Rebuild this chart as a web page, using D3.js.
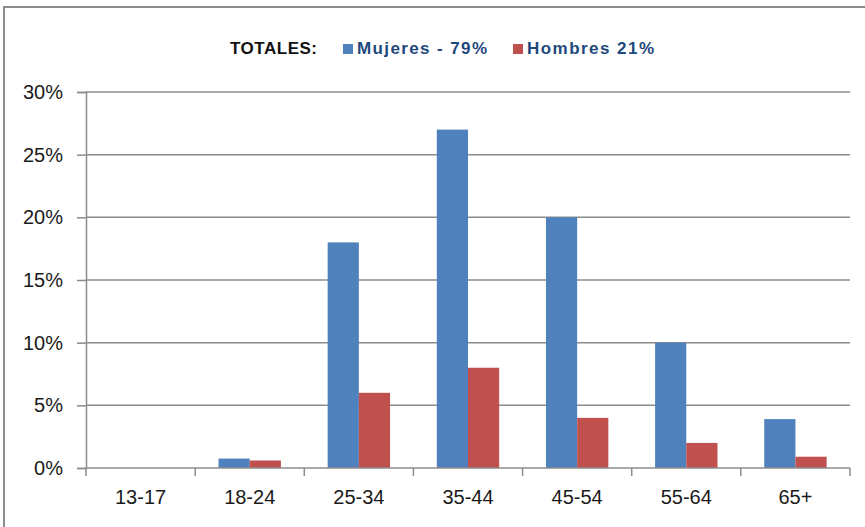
<!DOCTYPE html>
<html>
<head>
<meta charset="utf-8">
<script src="https://cdn.jsdelivr.net/npm/d3@7"></script>
<style>
  body { margin: 0; background: #fff; }
  svg { display: block; font-family: "Liberation Sans", Arial, sans-serif; }
</style>
</head>
<body>
<svg width="865" height="527"></svg>
<script>
// age groups and share of each sex
const ageGroups = ["13-17", "18-24", "25-34", "35-44", "45-54", "55-64", "65+"];
const mujeres = [0, 0.75, 18, 27, 20, 10, 3.9];
const hombres = [0, 0.6, 6, 8, 4, 2, 0.9];
const seriesNames = ["Mujeres - 79%", "Hombres 21%"];
const seriesColors = ["#4f81bd", "#c0504d"];
const yTicks = [0, 5, 10, 15, 20, 25, 30];

const svg = d3.select("svg");

// chart frame, right/bottom edges fall outside the picture
svg.append("rect")
    .attr("x", 4).attr("y", 7)
    .attr("width", 900).attr("height", 600)
    .attr("fill", "#fff")
    .attr("stroke", "#8c8c8c")
    .attr("stroke-width", 2);

const plotLeft = 86, plotRight = 850, plotTop = 92, plotBottom = 468;

const x0 = d3.scaleBand().domain(ageGroups).range([plotLeft, plotRight]).paddingInner(0).paddingOuter(0);
const x1 = d3.scaleBand().domain(seriesNames).range([0, x0.bandwidth()]).paddingInner(0).paddingOuter(0.75);
const y = d3.scaleLinear().domain([0, 30]).range([plotBottom, plotTop]);

// gridlines
svg.append("g")
  .selectAll("line")
  .data(yTicks.filter(d => d > 0))
  .enter().append("line")
    .attr("x1", plotLeft).attr("x2", plotRight)
    .attr("y1", d => y(d)).attr("y2", d => y(d))
    .attr("stroke", "#8c8c8c")
    .attr("stroke-width", 1.5);

// bars
const rows = ageGroups.map((g, i) => ({ group: g, values: [mujeres[i], hombres[i]] }));

const groups = svg.append("g")
  .selectAll("g")
  .data(rows)
  .enter().append("g")
    .attr("transform", d => `translate(${x0(d.group)},0)`);

groups.selectAll("rect")
  .data(d => d.values.map((v, j) => ({ name: seriesNames[j], value: v, color: seriesColors[j] })))
  .enter().append("rect")
    .attr("x", d => x1(d.name))
    .attr("y", d => y(d.value))
    .attr("width", x1.bandwidth())
    .attr("height", d => y(0) - y(d.value))
    .attr("fill", d => d.color);

// y axis
const yAxis = svg.append("g")
    .attr("transform", `translate(${plotLeft},0)`)
    .call(d3.axisLeft(y).tickValues(yTicks).tickFormat(d => d + "%").tickSize(9).tickPadding(14));
yAxis.select(".domain").attr("stroke", "#8c8c8c").attr("stroke-width", 1.5);
yAxis.selectAll(".tick line").attr("stroke", "#8c8c8c").attr("stroke-width", 1.5);
yAxis.selectAll(".tick text")
    .attr("font-size", 20)
    .attr("font-family", "Liberation Sans, Arial, sans-serif")
    .attr("fill", "#1a1a1a");

// x axis: ticks sit on category boundaries
const xAxisG = svg.append("g");
xAxisG.append("line")
    .attr("x1", plotLeft).attr("x2", plotRight)
    .attr("y1", plotBottom).attr("y2", plotBottom)
    .attr("stroke", "#8c8c8c").attr("stroke-width", 1.5);
xAxisG.selectAll(".xtick")
  .data(ageGroups.map(g => x0(g)).concat([plotRight]))
  .enter().append("line")
    .attr("x1", d => d).attr("x2", d => d)
    .attr("y1", plotBottom).attr("y2", plotBottom + 8)
    .attr("stroke", "#8c8c8c").attr("stroke-width", 1.5);
xAxisG.selectAll("text")
  .data(ageGroups)
  .enter().append("text")
    .attr("x", d => x0(d) + x0.bandwidth() / 2)
    .attr("y", 504)
    .attr("text-anchor", "middle")
    .attr("font-size", 20)
    .attr("fill", "#1a1a1a")
    .text(d => d);

// legend (text stretched a little to the widths of the original)
const legend = svg.append("g");
legend.append("text")
    .attr("x", 230).attr("y", 54)
    .attr("font-size", 17).attr("font-weight", "bold")
    .attr("fill", "#111")
    .attr("textLength", 87).attr("lengthAdjust", "spacing")
    .text("TOTALES:");

const legendX = [343, 513];
const legendW = [130, 127];
seriesNames.forEach((name, i) => {
  legend.append("rect")
      .attr("x", legendX[i]).attr("y", 44)
      .attr("width", 10).attr("height", 10)
      .attr("fill", seriesColors[i]);
  legend.append("text")
      .attr("x", legendX[i] + 14).attr("y", 54)
      .attr("font-size", 17).attr("font-weight", "bold")
      .attr("fill", "#1f497d")
      .attr("textLength", legendW[i]).attr("lengthAdjust", "spacing")
      .text(name);
});
</script>
</body>
</html>
